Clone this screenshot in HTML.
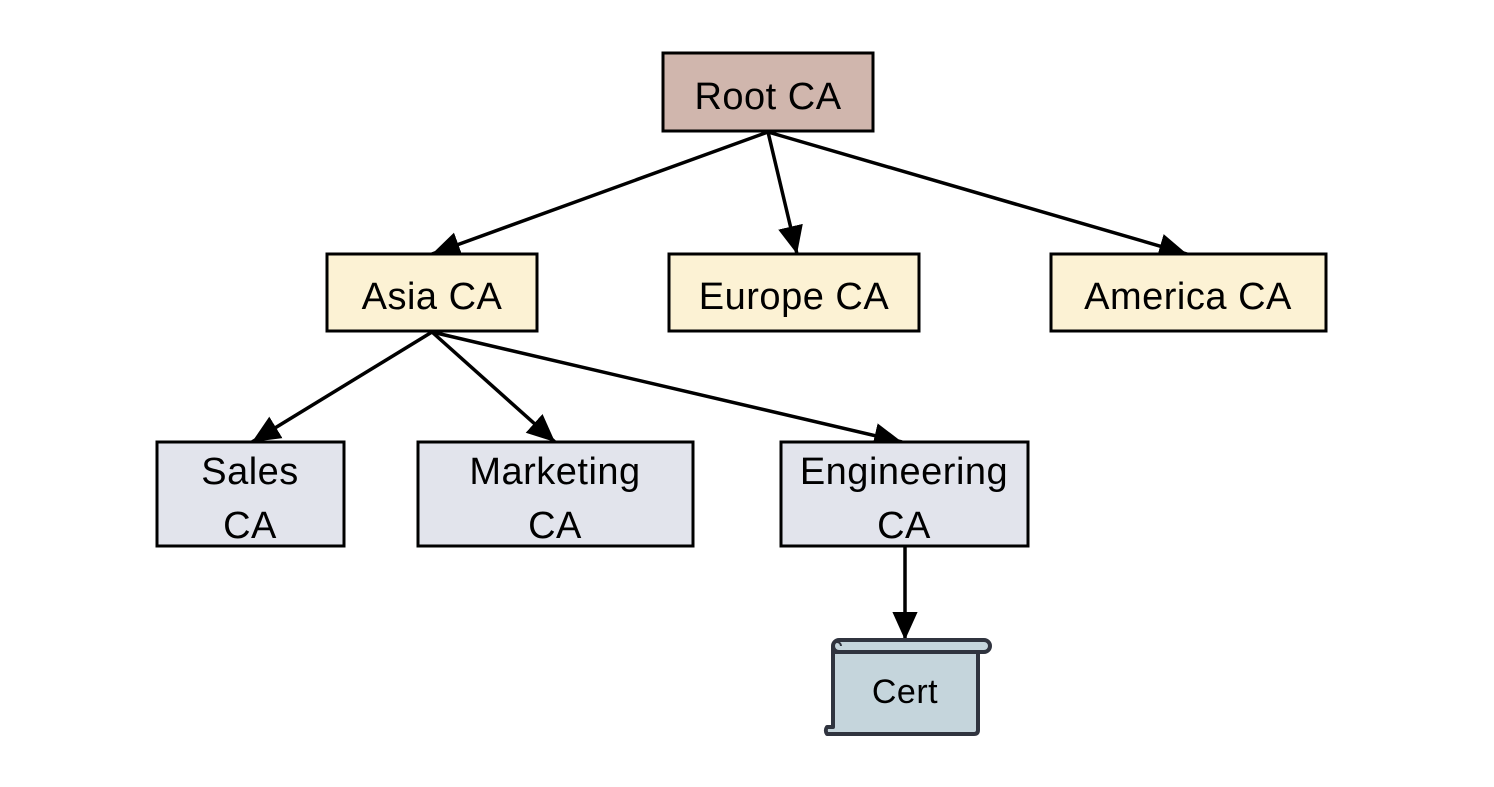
<!DOCTYPE html>
<html><head><style>
body{margin:0;background:#fff;}
svg text{font-family:"Liberation Sans",sans-serif;fill:#000;}
</style></head><body>
<svg width="1494" height="782" viewBox="0 0 1494 782" xmlns="http://www.w3.org/2000/svg">
<defs>
<marker id="ar" viewBox="0 0 20 20" refX="20" refY="10" markerWidth="28" markerHeight="28" orient="auto" markerUnits="userSpaceOnUse">
<path d="M0,1 L20,10 L0,19 z" fill="#000"/>
</marker>
</defs>
<g stroke="#000" stroke-width="3.5" fill="none" marker-end="url(#ar)">
<line x1="768" y1="132" x2="432" y2="254"/>
<line x1="768" y1="132" x2="797" y2="254"/>
<line x1="768" y1="132" x2="1187" y2="254"/>
<line x1="432" y1="332" x2="252" y2="442"/>
<line x1="432" y1="332" x2="555" y2="442"/>
<line x1="432" y1="332" x2="902" y2="442"/>
<line x1="905" y1="547" x2="905" y2="640"/>
</g>
<g stroke="#000" stroke-width="3">
<rect x="663" y="53" width="210" height="78" fill="#d0b6ad"/>
<rect x="327" y="254" width="210" height="77" fill="#fcf2d4"/>
<rect x="669" y="254" width="250" height="77" fill="#fcf2d4"/>
<rect x="1051" y="254" width="275" height="77" fill="#fcf2d4"/>
<rect x="157" y="442" width="187" height="104" fill="#e2e4ec"/>
<rect x="418" y="442" width="275" height="104" fill="#e2e4ec"/>
<rect x="781" y="442" width="247" height="104" fill="#e2e4ec"/>
</g>
<g stroke="#30343f" stroke-width="4" fill="#c5d5dc" stroke-linejoin="round">
<path d="M833,646 L833,727 L827,727 A6,6 0 0 0 827,734 L974,734 Q978,734 978,730 L978,652 L833,652"/>
<rect x="833" y="640" width="157" height="12" rx="6"/>
<path d="M833,646 A4,4 0 0 1 841,646" fill="none" stroke-width="2"/>
</g>
<g font-size="38" text-anchor="middle" letter-spacing="0.5">
<text x="768" y="109">Root CA</text>
<text x="432" y="309">Asia CA</text>
<text x="794" y="309">Europe CA</text>
<text x="1188" y="309">America CA</text>
<text x="250" y="484">Sales</text><text x="250" y="538">CA</text>
<text x="555" y="484">Marketing</text><text x="555" y="538">CA</text>
<text x="904" y="484">Engineering</text><text x="904" y="538">CA</text>
<text x="905" y="703" font-size="34">Cert</text>
</g>
</svg>
</body></html>
